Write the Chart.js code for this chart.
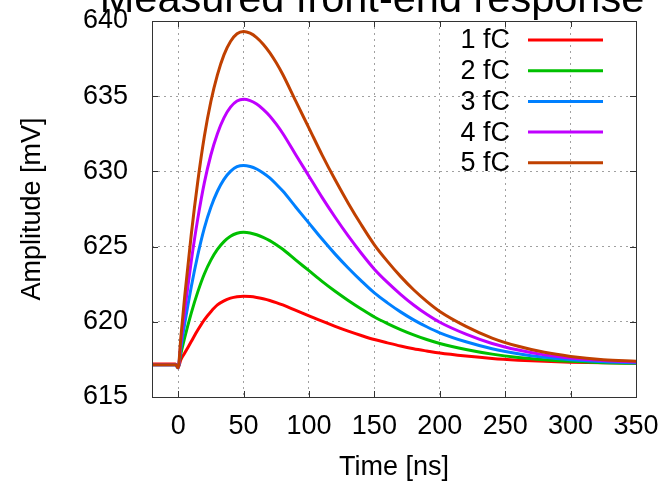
<!DOCTYPE html>
<html><head><meta charset="utf-8">
<script src="https://cdn.jsdelivr.net/npm/chart.js@4"></script>
<style>html,body{margin:0;padding:0;background:#fff;}#wrap{width:662px;height:484px;position:relative;overflow:hidden;}</style>
</head><body><div id="wrap"><canvas id="c" width="662" height="484"></canvas></div>
<script>
const chartTitle = 'Measured front-end response';
const xAxisTitle = 'Time [ns]';
const yAxisTitle = 'Amplitude [mV]';
const seriesLabels = ['1 fC', '2 fC', '3 fC', '4 fC', '5 fC'];
const xTickValues = [0, 50, 100, 150, 200, 250, 300, 350];
const yTickValues = [615, 620, 625, 630, 635, 640];

const times = [-20, -10, -2, 0, 2, 5, 10, 15, 20, 25, 30, 35, 40, 45, 50, 55, 60, 65, 70, 75, 80, 90, 100, 110, 120, 130, 140, 150, 160, 170, 180, 190, 200, 220, 240, 260, 280, 300, 325, 350];
const amp1fC = [617.2, 617.2, 617.2, 616.95, 617.47, 617.92, 618.69, 619.45, 620.13, 620.67, 621.12, 621.39, 621.57, 621.67, 621.7, 621.68, 621.62, 621.53, 621.42, 621.28, 621.12, 620.76, 620.4, 620.04, 619.7, 619.38, 619.09, 618.82, 618.6, 618.39, 618.21, 618.06, 617.92, 617.72, 617.56, 617.45, 617.37, 617.31, 617.27, 617.25];
const amp2fC = [617.15, 617.15, 617.15, 616.95, 617.85, 618.95, 620.58, 621.99, 623.18, 624.1, 624.81, 625.33, 625.69, 625.89, 625.95, 625.91, 625.79, 625.62, 625.4, 625.12, 624.82, 624.1, 623.4, 622.69, 622.03, 621.42, 620.85, 620.32, 619.88, 619.48, 619.13, 618.82, 618.56, 618.16, 617.85, 617.63, 617.48, 617.37, 617.28, 617.24];
const amp3fC = [617.15, 617.15, 617.15, 616.95, 618.21, 619.87, 622.32, 624.44, 626.23, 627.62, 628.68, 629.47, 630.0, 630.31, 630.4, 630.33, 630.16, 629.9, 629.57, 629.15, 628.69, 627.62, 626.56, 625.5, 624.5, 623.58, 622.72, 621.92, 621.26, 620.66, 620.13, 619.67, 619.27, 618.67, 618.21, 617.88, 617.64, 617.48, 617.35, 617.28];
const amp4fC = [617.15, 617.15, 617.15, 616.95, 618.56, 620.77, 624.03, 626.86, 629.24, 631.09, 632.51, 633.56, 634.27, 634.68, 634.8, 634.71, 634.48, 634.13, 633.69, 633.14, 632.52, 631.09, 629.68, 628.27, 626.95, 625.71, 624.56, 623.5, 622.62, 621.83, 621.12, 620.5, 619.97, 619.18, 618.56, 618.12, 617.8, 617.59, 617.42, 617.33];
const amp5fC = [617.15, 617.15, 617.15, 616.95, 618.92, 621.69, 625.79, 629.33, 632.32, 634.65, 636.42, 637.75, 638.64, 639.15, 639.3, 639.19, 638.9, 638.46, 637.9, 637.22, 636.44, 634.65, 632.88, 631.1, 629.44, 627.89, 626.45, 625.12, 624.02, 623.02, 622.13, 621.36, 620.69, 619.7, 618.92, 618.37, 617.97, 617.7, 617.48, 617.37];

const seriesValues = [amp1fC, amp2fC, amp3fC, amp4fC, amp5fC];
const seriesColors = ['#ff0000', '#00c000', '#0080ff', '#c000ff', '#c04000'];
const FONT = '"Liberation Sans", Arial, sans-serif';
const FS = 27;

const datasets = seriesValues.map((vals, i) => ({
  label: seriesLabels[i],
  data: times.map((t, j) => ({ x: t, y: vals[j] })),
  borderColor: seriesColors[i],
  backgroundColor: seriesColors[i],
  borderWidth: 3,
  pointRadius: 0,
  fill: false,
  cubicInterpolationMode: 'monotone',
  order: seriesValues.length - i
}));

function zeroPad(s) { s.paddingTop = 0; s.paddingBottom = 0; s.paddingLeft = 0; s.paddingRight = 0; }

const framePlugin = {
  id: 'frame',
  afterDraw(chart) {
    const { ctx, chartArea: a, scales } = chart;
    ctx.save();
    ctx.strokeStyle = '#333';
    ctx.lineWidth = 1;
    ctx.strokeRect(a.left + 0.5, a.top + 0.5, a.right - a.left, a.bottom - a.top);
    const L = 6;
    ctx.beginPath();
    xTickValues.forEach(v => {
      const x = Math.round(scales.x.getPixelForValue(v)) + 0.5;
      ctx.moveTo(x, a.bottom); ctx.lineTo(x, a.bottom - L);
      ctx.moveTo(x, a.top); ctx.lineTo(x, a.top + L);
    });
    yTickValues.forEach(v => {
      const y = Math.round(scales.y.getPixelForValue(v)) + 0.5;
      ctx.moveTo(a.left, y); ctx.lineTo(a.left + L, y);
      ctx.moveTo(a.right, y); ctx.lineTo(a.right - L, y);
    });
    ctx.stroke();
    // title (clipped at top as in reference)
    ctx.fillStyle = '#000';
    ctx.font = '41.5px ' + FONT;
    ctx.textAlign = 'center';
    ctx.textBaseline = 'alphabetic';
    ctx.fillText(chartTitle, 372, 12);
    // legend
    ctx.font = FS + 'px ' + FONT;
    ctx.textAlign = 'right';
    ctx.textBaseline = 'middle';
    chart.data.datasets.forEach((ds, i) => {
      const y = 40 + i * 30.7;
      ctx.fillStyle = '#000';
      ctx.fillText(ds.label, 510, y + 1);
      ctx.strokeStyle = ds.borderColor;
      ctx.lineWidth = 3;
      ctx.beginPath();
      ctx.moveTo(528, y); ctx.lineTo(603, y);
      ctx.stroke();
    });
    ctx.restore();
  }
};

new Chart(document.getElementById('c'), {
  type: 'line',
  data: { datasets },
  options: {
    responsive: false,
    animation: false,
    devicePixelRatio: 1,
    layout: { padding: { top: 21, right: 26, left: 0, bottom: 0 } },
    plugins: { legend: { display: false }, tooltip: { enabled: false }, title: { display: false } },
    scales: {
      x: {
        type: 'linear',
        min: -20, max: 350,
        afterBuildTicks: s => { s.ticks = xTickValues.map(v => ({ value: v })); },
        afterFit: s => { s.height = 87; zeroPad(s); },
        ticks: { font: { family: FONT, size: FS }, color: '#000', padding: 13, maxRotation: 0, autoSkip: false },
        grid: { color: '#a0a0a0', lineWidth: 1, drawTicks: false },
        border: { display: false, dash: [2, 4] },
        title: { display: true, text: xAxisTitle, font: { family: FONT, size: FS }, color: '#000', padding: { top: 0, bottom: 0 } }
      },
      y: {
        type: 'linear',
        min: 615, max: 640,
        afterBuildTicks: s => { s.ticks = yTickValues.map(v => ({ value: v })); },
        afterFit: s => { s.width = 152; zeroPad(s); },
        ticks: { font: { family: FONT, size: FS }, color: '#000', padding: 24 },
        grid: { color: '#a0a0a0', lineWidth: 1, drawTicks: false },
        border: { display: false, dash: [2, 4] },
        title: { display: true, text: yAxisTitle, font: { family: FONT, size: FS }, color: '#000', padding: { top: 16, bottom: 0 } }
      }
    }
  },
  plugins: [framePlugin]
});
</script>
</body></html>
